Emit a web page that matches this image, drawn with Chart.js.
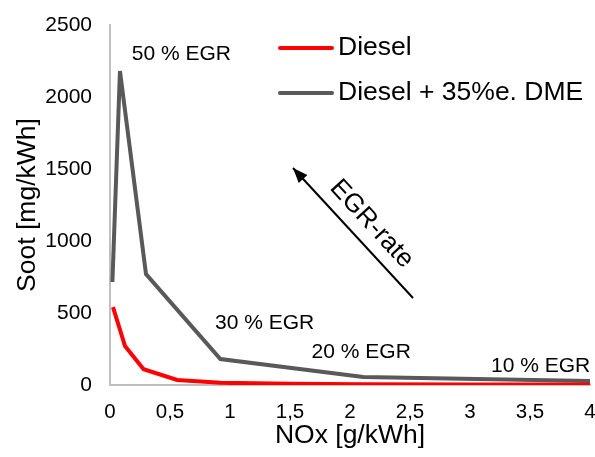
<!DOCTYPE html>
<html lang="en">
<head>
  <meta charset="UTF-8" />
  <title>Soot vs NOx</title>
  <script src="https://cdn.jsdelivr.net/npm/chart.js"></script>
  <style>
    body { margin: 0; background: #fff; }
    .wrap { width: 595px; height: 457px; }
  </style>
</head>
<body>
  <div class="wrap"><canvas id="sootChart" width="595" height="457"></canvas></div>
  <script>
    // series
    const dieselLabel = "Diesel";
    const dieselNox = [0.025, 0.125, 0.28, 0.56, 0.92, 1.5, 2.1, 3.0, 4.0];
    const dieselSoot = [541, 270, 110, 35, 15, 8, 5, 4, 3];

    const dmeLabel = "Diesel + 35%e. DME";
    const dmeNox = [0.02, 0.083, 0.3, 0.92, 2.11, 4.0];
    const dmeSoot = [715, 2180, 770, 180, 55, 28];

    const xTicks = [0, 0.5, 1, 1.5, 2, 2.5, 3, 3.5, 4];
    const yTicks = [0, 500, 1000, 1500, 2000, 2500];

    const FONT = "'Liberation Sans', Arial, sans-serif";

    const toPoints = (xs, ys) => xs.map((x, i) => ({ x: x, y: ys[i] }));

    // text notes, arrow and legend drawn on top of the chart area
    const notesPlugin = {
      id: "notes",
      afterDatasetsDraw(chart) {
        const c = chart.ctx;
        const xs = chart.scales.x, ys = chart.scales.y;
        const px = v => xs.getPixelForValue(v);
        const py = v => ys.getPixelForValue(v);
        c.save();
        c.fillStyle = "#000";
        c.font = "21px " + FONT;
        c.textBaseline = "middle";

        c.textAlign = "center";
        c.fillText("50 % EGR", px(0.595), py(2299));
        c.textAlign = "left";
        c.fillText("30 % EGR", px(0.875), py(430));
        c.fillText("20 % EGR", px(1.68), py(229));
        c.fillText("10 % EGR", px(3.175), py(132));

        // arrow
        const x1 = px(2.525), y1 = py(604), x2 = px(1.525), y2 = py(1507);
        c.strokeStyle = "#000";
        c.lineWidth = 2;
        c.beginPath();
        c.moveTo(x1, y1);
        c.lineTo(x2, y2);
        c.stroke();
        const a = Math.atan2(y2 - y1, x2 - x1);
        c.beginPath();
        c.moveTo(x2, y2);
        c.lineTo(x2 - 16 * Math.cos(a - 0.38), y2 - 16 * Math.sin(a - 0.38));
        c.lineTo(x2 - 16 * Math.cos(a + 0.38), y2 - 16 * Math.sin(a + 0.38));
        c.closePath();
        c.fill();

        c.save();
        c.translate(px(2.18), py(1118));
        c.rotate(Math.atan2(y1 - y2, x1 - x2));
        c.textAlign = "center";
        c.font = "26px " + FONT;
        c.fillText("EGR-rate", 0, 0);
        c.restore();

        // legend
        c.font = "26.5px " + FONT;
        c.textAlign = "left";
        chart.data.datasets.forEach((ds, i) => {
          const ly = 48 + i * 45;
          c.strokeStyle = ds.borderColor;
          c.lineWidth = 4;
          c.lineCap = "round";
          c.beginPath();
          c.moveTo(280, ly);
          c.lineTo(332, ly);
          c.stroke();
          c.fillText(ds.label, 338, ly);
        });
        c.restore();
      }
    };

    new Chart(document.getElementById("sootChart"), {
      type: "scatter",
      data: {
        datasets: [
          {
            label: dieselLabel,
            data: toPoints(dieselNox, dieselSoot),
            borderColor: "#ff0000",
            backgroundColor: "#ff0000",
            borderWidth: 4,
            showLine: true,
            pointRadius: 0,
            tension: 0
          },
          {
            label: dmeLabel,
            data: toPoints(dmeNox, dmeSoot),
            borderColor: "#595959",
            backgroundColor: "#595959",
            borderWidth: 4,
            showLine: true,
            pointRadius: 0,
            tension: 0
          }
        ]
      },
      options: {
        responsive: false,
        animation: false,
        layout: { padding: { top: 25, right: 5, left: 0, bottom: 0 } },
        plugins: {
          legend: { display: false },
          tooltip: { enabled: false }
        },
        scales: {
          x: {
            type: "linear",
            min: 0,
            max: 4,
            afterBuildTicks: s => { s.ticks = xTicks.map(v => ({ value: v })); },
            afterFit: s => { s.height = 72; s.paddingLeft = 0; s.paddingRight = 0; },
            grid: { display: false, drawTicks: false },
            border: { color: "#bfbfbf", width: 2 },
            ticks: {
              color: "#000",
              padding: 15,
              font: { family: FONT, size: 20.5 },
              callback: v => String(v).replace(".", ",")
            },
            title: {
              display: true,
              text: "NOx [g/kWh]",
              color: "#000",
              padding: { top: 0, bottom: 5 },
              font: { family: FONT, size: 26.5 }
            }
          },
          y: {
            min: 0,
            max: 2500,
            afterBuildTicks: s => { s.ticks = yTicks.map(v => ({ value: v })); },
            afterFit: s => { s.width = 110; s.paddingTop = 0; s.paddingBottom = 0; },
            grid: { display: false, drawTicks: false },
            border: { color: "#bfbfbf", width: 2 },
            ticks: {
              color: "#000",
              padding: 18,
              font: { family: FONT, size: 21 },
              callback: v => String(v)
            },
            title: {
              display: true,
              text: "Soot [mg/kWh]",
              color: "#000",
              padding: { top: 12, bottom: 0 },
              font: { family: FONT, size: 26.5 }
            }
          }
        }
      },
      plugins: [notesPlugin]
    });
  </script>
</body>
</html>
